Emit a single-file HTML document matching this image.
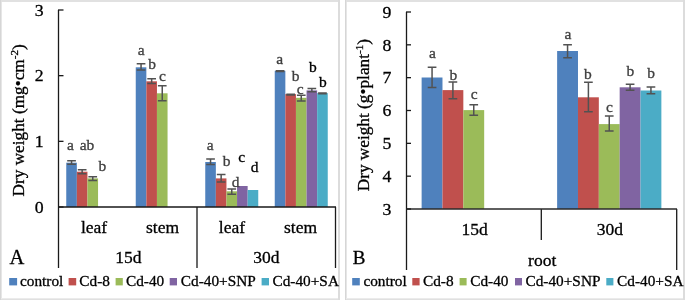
<!DOCTYPE html>
<html><head><meta charset="utf-8"><style>
html,body{margin:0;padding:0;background:#fff;}
svg{display:block;will-change:transform;}
</style></head><body>
<svg width="685" height="300" viewBox="0 0 685 300">
<rect width="685" height="300" fill="#fff"/>
<rect x="0" y="0" width="340" height="2" fill="#e1e1e1"/>
<rect x="0" y="298" width="340" height="1" fill="#ebebeb"/>
<rect x="0" y="299" width="340" height="1" fill="#e0e0e0"/>
<rect x="0" y="0" width="1" height="300" fill="#d6d6d6"/>
<rect x="1" y="2" width="1" height="296" fill="#e6e6e6"/>
<rect x="338" y="0" width="2" height="300" fill="#dcdcdc"/>
<rect x="345" y="0" width="340" height="2" fill="#e1e1e1"/>
<rect x="345" y="298" width="340" height="1" fill="#ebebeb"/>
<rect x="345" y="299" width="340" height="1" fill="#e0e0e0"/>
<rect x="345" y="0" width="1" height="300" fill="#d6d6d6"/>
<rect x="346" y="2" width="1" height="296" fill="#e6e6e6"/>
<rect x="683" y="0" width="2" height="300" fill="#dcdcdc"/>
<rect x="66.25" y="162.70" width="10.60" height="44.30" fill="#4f81bd"/>
<rect x="76.85" y="171.70" width="10.60" height="35.30" fill="#c0504d"/>
<rect x="87.45" y="178.40" width="10.60" height="28.60" fill="#9bbb59"/>
<rect x="135.75" y="67.30" width="10.60" height="139.70" fill="#4f81bd"/>
<rect x="146.35" y="81.30" width="10.60" height="125.70" fill="#c0504d"/>
<rect x="156.95" y="93.30" width="10.60" height="113.70" fill="#9bbb59"/>
<rect x="205.25" y="162.00" width="10.60" height="45.00" fill="#4f81bd"/>
<rect x="215.85" y="178.40" width="10.60" height="28.60" fill="#c0504d"/>
<rect x="226.45" y="191.30" width="10.60" height="15.70" fill="#9bbb59"/>
<rect x="237.05" y="186.00" width="10.60" height="21.00" fill="#8064a2"/>
<rect x="247.65" y="190.00" width="10.60" height="17.00" fill="#4bacc6"/>
<rect x="274.75" y="70.80" width="10.60" height="136.20" fill="#4f81bd"/>
<rect x="285.35" y="94.10" width="10.60" height="112.90" fill="#c0504d"/>
<rect x="295.95" y="97.80" width="10.60" height="109.20" fill="#9bbb59"/>
<rect x="306.55" y="90.40" width="10.60" height="116.60" fill="#8064a2"/>
<rect x="317.15" y="93.10" width="10.60" height="113.90" fill="#4bacc6"/>
<path d="M67.20 160.70H75.90M71.55 160.70V164.30M67.20 164.30H75.90" stroke="#525252" stroke-width="1.5" fill="none"/>
<path d="M77.80 169.70H86.50M82.15 169.70V173.70M77.80 173.70H86.50" stroke="#525252" stroke-width="1.5" fill="none"/>
<path d="M88.40 176.70H97.10M92.75 176.70V180.40M88.40 180.40H97.10" stroke="#525252" stroke-width="1.5" fill="none"/>
<path d="M136.70 63.70H145.40M141.05 63.70V69.90M136.70 69.90H145.40" stroke="#525252" stroke-width="1.5" fill="none"/>
<path d="M147.30 78.70H156.00M151.65 78.70V83.40M147.30 83.40H156.00" stroke="#525252" stroke-width="1.5" fill="none"/>
<path d="M157.90 85.80H166.60M162.25 85.80V100.80M157.90 100.80H166.60" stroke="#525252" stroke-width="1.5" fill="none"/>
<path d="M206.20 159.00H214.90M210.55 159.00V164.50M206.20 164.50H214.90" stroke="#525252" stroke-width="1.5" fill="none"/>
<path d="M216.80 174.50H225.50M221.15 174.50V182.00M216.80 182.00H225.50" stroke="#525252" stroke-width="1.5" fill="none"/>
<path d="M227.40 189.00H236.10M231.75 189.00V194.20M227.40 194.20H236.10" stroke="#525252" stroke-width="1.5" fill="none"/>
<path d="M275.70 70.80H284.40M280.05 70.80V71.60M275.70 71.60H284.40" stroke="#525252" stroke-width="1.5" fill="none"/>
<path d="M286.30 94.20H295.00M290.65 94.20V95.00M286.30 95.00H295.00" stroke="#525252" stroke-width="1.5" fill="none"/>
<path d="M296.90 95.20H305.60M301.25 95.20V101.00M296.90 101.00H305.60" stroke="#525252" stroke-width="1.5" fill="none"/>
<path d="M307.50 88.60H316.20M311.85 88.60V91.80M307.50 91.80H316.20" stroke="#525252" stroke-width="1.5" fill="none"/>
<path d="M318.10 93.10H326.80M322.45 93.10V93.70M318.10 93.70H326.80" stroke="#525252" stroke-width="1.5" fill="none"/>
<path d="M58.5 10V268M58 207.0H336M197 207.0V268M335.5 207.0V268" stroke="#1a1a1a" stroke-width="1.3" fill="none"/>
<path d="M58 207.00H63.5" stroke="#1a1a1a" stroke-width="1.3"/>
<text x="43.5" y="212.7" font-size="17.75" text-anchor="end" fill="#000" stroke="#000" stroke-width="0.3" font-family="Liberation Serif" >0</text>
<path d="M58 141.33H63.5" stroke="#1a1a1a" stroke-width="1.3"/>
<text x="43.5" y="147.0" font-size="17.75" text-anchor="end" fill="#000" stroke="#000" stroke-width="0.3" font-family="Liberation Serif" >1</text>
<path d="M58 75.67H63.5" stroke="#1a1a1a" stroke-width="1.3"/>
<text x="43.5" y="81.4" font-size="17.75" text-anchor="end" fill="#000" stroke="#000" stroke-width="0.3" font-family="Liberation Serif" >2</text>
<path d="M58 10.00H63.5" stroke="#1a1a1a" stroke-width="1.3"/>
<text x="43.5" y="15.7" font-size="17.75" text-anchor="end" fill="#000" stroke="#000" stroke-width="0.3" font-family="Liberation Serif" >3</text>
<text x="94" y="232.5" font-size="17.5" text-anchor="middle" fill="#000" stroke="#000" stroke-width="0.3" font-family="Liberation Serif" >leaf</text>
<text x="162.5" y="232.5" font-size="17.5" text-anchor="middle" fill="#000" stroke="#000" stroke-width="0.3" font-family="Liberation Serif" >stem</text>
<text x="231.9" y="232.5" font-size="17.5" text-anchor="middle" fill="#000" stroke="#000" stroke-width="0.3" font-family="Liberation Serif" >leaf</text>
<text x="300.6" y="232.5" font-size="17.5" text-anchor="middle" fill="#000" stroke="#000" stroke-width="0.3" font-family="Liberation Serif" >stem</text>
<text x="128.4" y="263" font-size="17.5" text-anchor="middle" fill="#000" stroke="#000" stroke-width="0.3" font-family="Liberation Serif" >15d</text>
<text x="266.3" y="263" font-size="17.5" text-anchor="middle" fill="#000" stroke="#000" stroke-width="0.3" font-family="Liberation Serif" >30d</text>
<text x="17" y="264.4" font-size="20.5" text-anchor="middle" fill="#000" stroke="#000" stroke-width="0.3" font-family="Liberation Serif" >A</text>
<text transform="translate(23.8,120.4) rotate(-90)" font-size="17.25" text-anchor="middle" stroke="#000" stroke-width="0.3" font-family="Liberation Serif">Dry weight (mg•cm<tspan dy="-6" font-size="11">-2</tspan><tspan dy="6">)</tspan></text>
<text x="67.0" y="150" font-size="15.5" text-anchor="start" fill="#404040" stroke="#404040" stroke-width="0.3" font-family="Liberation Serif" >a</text>
<text x="79.7" y="150" font-size="15.5" text-anchor="start" fill="#404040" stroke="#404040" stroke-width="0.3" font-family="Liberation Serif" >ab</text>
<text x="98.5" y="171" font-size="15.5" text-anchor="start" fill="#404040" stroke="#404040" stroke-width="0.3" font-family="Liberation Serif" >b</text>
<text x="137.7" y="55" font-size="15.5" text-anchor="start" fill="#404040" stroke="#404040" stroke-width="0.3" font-family="Liberation Serif" >a</text>
<text x="148.2" y="68.8" font-size="15.5" text-anchor="start" fill="#404040" stroke="#404040" stroke-width="0.3" font-family="Liberation Serif" >b</text>
<text x="158.9" y="81.3" font-size="15.5" text-anchor="start" fill="#404040" stroke="#404040" stroke-width="0.3" font-family="Liberation Serif" >c</text>
<text x="206.7" y="149.8" font-size="15.5" text-anchor="start" fill="#404040" stroke="#404040" stroke-width="0.3" font-family="Liberation Serif" >a</text>
<text x="222.7" y="165.6" font-size="15.5" text-anchor="start" fill="#404040" stroke="#404040" stroke-width="0.3" font-family="Liberation Serif" >b</text>
<text x="231.7" y="186.5" font-size="15.5" text-anchor="start" fill="#404040" stroke="#404040" stroke-width="0.3" font-family="Liberation Serif" >d</text>
<text x="238.2" y="161.8" font-size="15.5" text-anchor="start" fill="#000" stroke="#000" stroke-width="0.3" font-family="Liberation Serif" >c</text>
<text x="250.7" y="171.5" font-size="15.5" text-anchor="start" fill="#000" stroke="#000" stroke-width="0.3" font-family="Liberation Serif" >d</text>
<text x="276.3" y="64.4" font-size="15.5" text-anchor="start" fill="#404040" stroke="#404040" stroke-width="0.3" font-family="Liberation Serif" >a</text>
<text x="291.7" y="81" font-size="15.5" text-anchor="start" fill="#404040" stroke="#404040" stroke-width="0.3" font-family="Liberation Serif" >b</text>
<text x="296.7" y="93.5" font-size="15.5" text-anchor="start" fill="#404040" stroke="#404040" stroke-width="0.3" font-family="Liberation Serif" >c</text>
<text x="309.1" y="72.4" font-size="15.5" text-anchor="start" fill="#000" stroke="#000" stroke-width="0.3" font-family="Liberation Serif" >b</text>
<text x="319.1" y="87" font-size="15.5" text-anchor="start" fill="#000" stroke="#000" stroke-width="0.3" font-family="Liberation Serif" >b</text>
<rect x="421.63" y="77.50" width="20.85" height="131.50" fill="#4f81bd"/>
<rect x="442.48" y="90.10" width="20.85" height="118.90" fill="#c0504d"/>
<rect x="463.33" y="110.10" width="20.85" height="98.90" fill="#9bbb59"/>
<rect x="557.13" y="51.00" width="20.85" height="158.00" fill="#4f81bd"/>
<rect x="577.98" y="97.30" width="20.85" height="111.70" fill="#c0504d"/>
<rect x="598.83" y="124.10" width="20.85" height="84.90" fill="#9bbb59"/>
<rect x="619.67" y="87.30" width="20.85" height="121.70" fill="#8064a2"/>
<rect x="640.52" y="90.50" width="20.85" height="118.50" fill="#4bacc6"/>
<path d="M427.71 67.20H436.41M432.06 67.20V87.50M427.71 87.50H436.41" stroke="#525252" stroke-width="1.5" fill="none"/>
<path d="M448.55 81.90H457.25M452.90 81.90V98.70M448.55 98.70H457.25" stroke="#525252" stroke-width="1.5" fill="none"/>
<path d="M469.40 104.80H478.10M473.75 104.80V115.20M469.40 115.20H478.10" stroke="#525252" stroke-width="1.5" fill="none"/>
<path d="M563.21 44.70H571.91M567.56 44.70V57.70M563.21 57.70H571.91" stroke="#525252" stroke-width="1.5" fill="none"/>
<path d="M584.05 82.30H592.75M588.40 82.30V111.70M584.05 111.70H592.75" stroke="#525252" stroke-width="1.5" fill="none"/>
<path d="M604.90 115.90H613.60M609.25 115.90V131.10M604.90 131.10H613.60" stroke="#525252" stroke-width="1.5" fill="none"/>
<path d="M625.75 84.20H634.45M630.10 84.20V90.30M625.75 90.30H634.45" stroke="#525252" stroke-width="1.5" fill="none"/>
<path d="M646.59 87.00H655.29M650.94 87.00V93.80M646.59 93.80H655.29" stroke="#525252" stroke-width="1.5" fill="none"/>
<path d="M406.5 12V270M541.3 209.0V240M676.7 209.0V270" stroke="#1a1a1a" stroke-width="1.3" fill="none"/>
<path d="M406 209.0H677" stroke="#2a2a2a" stroke-width="1.6" fill="none"/>
<path d="M406 209.00H411" stroke="#1a1a1a" stroke-width="1.3"/>
<text x="391.3" y="214.7" font-size="17.75" text-anchor="end" fill="#000" stroke="#000" stroke-width="0.3" font-family="Liberation Serif" >3</text>
<path d="M406 176.17H411" stroke="#1a1a1a" stroke-width="1.3"/>
<text x="391.3" y="181.9" font-size="17.75" text-anchor="end" fill="#000" stroke="#000" stroke-width="0.3" font-family="Liberation Serif" >4</text>
<path d="M406 143.33H411" stroke="#1a1a1a" stroke-width="1.3"/>
<text x="391.3" y="149.0" font-size="17.75" text-anchor="end" fill="#000" stroke="#000" stroke-width="0.3" font-family="Liberation Serif" >5</text>
<path d="M406 110.50H411" stroke="#1a1a1a" stroke-width="1.3"/>
<text x="391.3" y="116.2" font-size="17.75" text-anchor="end" fill="#000" stroke="#000" stroke-width="0.3" font-family="Liberation Serif" >6</text>
<path d="M406 77.67H411" stroke="#1a1a1a" stroke-width="1.3"/>
<text x="391.3" y="83.4" font-size="17.75" text-anchor="end" fill="#000" stroke="#000" stroke-width="0.3" font-family="Liberation Serif" >7</text>
<path d="M406 44.83H411" stroke="#1a1a1a" stroke-width="1.3"/>
<text x="391.3" y="50.5" font-size="17.75" text-anchor="end" fill="#000" stroke="#000" stroke-width="0.3" font-family="Liberation Serif" >8</text>
<path d="M406 12.00H411" stroke="#1a1a1a" stroke-width="1.3"/>
<text x="391.3" y="17.7" font-size="17.75" text-anchor="end" fill="#000" stroke="#000" stroke-width="0.3" font-family="Liberation Serif" >9</text>
<text x="474.7" y="234.7" font-size="17.5" text-anchor="middle" fill="#000" stroke="#000" stroke-width="0.3" font-family="Liberation Serif" >15d</text>
<text x="609.8" y="234.7" font-size="17.5" text-anchor="middle" fill="#000" stroke="#000" stroke-width="0.3" font-family="Liberation Serif" >30d</text>
<text x="542.2" y="265.6" font-size="17.5" text-anchor="middle" fill="#000" stroke="#000" stroke-width="0.3" font-family="Liberation Serif" >root</text>
<text x="359" y="263.8" font-size="19" text-anchor="middle" fill="#000" stroke="#000" stroke-width="0.3" font-family="Liberation Serif" >B</text>
<text transform="translate(368.6,115.2) rotate(-90)" font-size="17.25" text-anchor="middle" stroke="#000" stroke-width="0.3" font-family="Liberation Serif">Dry weight (g•plant<tspan dy="-6" font-size="11">-1</tspan><tspan dy="6">)</tspan></text>
<text x="428.9" y="58.3" font-size="15.5" text-anchor="start" fill="#404040" stroke="#404040" stroke-width="0.3" font-family="Liberation Serif" >a</text>
<text x="449.4" y="79.5" font-size="15.5" text-anchor="start" fill="#404040" stroke="#404040" stroke-width="0.3" font-family="Liberation Serif" >b</text>
<text x="470.7" y="98.7" font-size="15.5" text-anchor="start" fill="#404040" stroke="#404040" stroke-width="0.3" font-family="Liberation Serif" >c</text>
<text x="564.4" y="39.4" font-size="15.5" text-anchor="start" fill="#404040" stroke="#404040" stroke-width="0.3" font-family="Liberation Serif" >a</text>
<text x="584.0" y="79.3" font-size="15.5" text-anchor="start" fill="#404040" stroke="#404040" stroke-width="0.3" font-family="Liberation Serif" >b</text>
<text x="605.9" y="112" font-size="15.5" text-anchor="start" fill="#404040" stroke="#404040" stroke-width="0.3" font-family="Liberation Serif" >c</text>
<text x="626.4" y="75.5" font-size="15.5" text-anchor="start" fill="#404040" stroke="#404040" stroke-width="0.3" font-family="Liberation Serif" >b</text>
<text x="647.2" y="78.3" font-size="15.5" text-anchor="start" fill="#404040" stroke="#404040" stroke-width="0.3" font-family="Liberation Serif" >b</text>
<rect x="9.2" y="278" width="7.900000000000002" height="7.4" fill="#4f81bd"/>
<text x="20.0" y="286.3" font-size="15.3" text-anchor="start" fill="#000" stroke="#000" stroke-width="0.3" font-family="Liberation Serif" >control</text>
<rect x="68.6" y="278" width="7.6000000000000085" height="7.4" fill="#c0504d"/>
<text x="79.3" y="286.3" font-size="15.3" text-anchor="start" fill="#000" stroke="#000" stroke-width="0.3" font-family="Liberation Serif" >Cd-8</text>
<rect x="115.6" y="278" width="7.200000000000003" height="7.4" fill="#9bbb59"/>
<text x="126.0" y="286.3" font-size="15.3" text-anchor="start" fill="#000" stroke="#000" stroke-width="0.3" font-family="Liberation Serif" >Cd-40</text>
<rect x="169.7" y="278" width="7.300000000000011" height="7.4" fill="#8064a2"/>
<text x="180.8" y="286.3" font-size="15.3" text-anchor="start" fill="#000" stroke="#000" stroke-width="0.3" font-family="Liberation Serif" >Cd-40+SNP</text>
<rect x="261.6" y="278" width="7.399999999999977" height="7.4" fill="#4bacc6"/>
<text x="272.5" y="286.3" font-size="15.3" text-anchor="start" fill="#000" stroke="#000" stroke-width="0.3" font-family="Liberation Serif" >Cd-40+SA</text>
<rect x="352.2" y="278" width="7.600000000000023" height="7.4" fill="#4f81bd"/>
<text x="363.4" y="286.3" font-size="15.3" text-anchor="start" fill="#000" stroke="#000" stroke-width="0.3" font-family="Liberation Serif" >control</text>
<rect x="412.3" y="278" width="7.300000000000011" height="7.4" fill="#c0504d"/>
<text x="423.0" y="286.3" font-size="15.3" text-anchor="start" fill="#000" stroke="#000" stroke-width="0.3" font-family="Liberation Serif" >Cd-8</text>
<rect x="459.6" y="278" width="7.0" height="7.4" fill="#9bbb59"/>
<text x="470.2" y="286.3" font-size="15.3" text-anchor="start" fill="#000" stroke="#000" stroke-width="0.3" font-family="Liberation Serif" >Cd-40</text>
<rect x="515" y="278" width="7" height="7.4" fill="#8064a2"/>
<text x="525.5" y="286.3" font-size="15.3" text-anchor="start" fill="#000" stroke="#000" stroke-width="0.3" font-family="Liberation Serif" >Cd-40+SNP</text>
<rect x="606.3" y="278" width="7.100000000000023" height="7.4" fill="#4bacc6"/>
<text x="617.1" y="286.3" font-size="15.3" text-anchor="start" fill="#000" stroke="#000" stroke-width="0.3" font-family="Liberation Serif" >Cd-40+SA</text>
</svg>
</body></html>
